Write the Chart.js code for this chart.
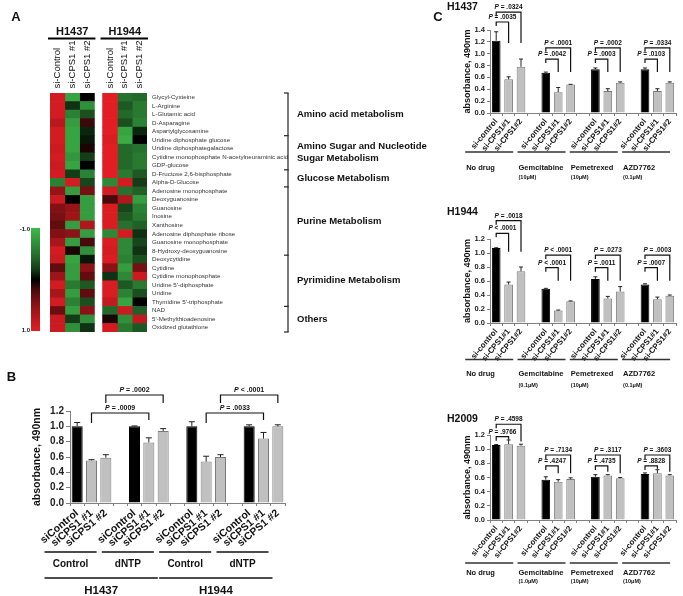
<!DOCTYPE html>
<html>
<head>
<meta charset="utf-8">
<title>CPS1 knockdown: metabolite heatmap and absorbance</title>
<script src="https://cdn.jsdelivr.net/npm/chart.js@4.4.1/dist/chart.umd.min.js"></script>
<style>
  html, body { margin: 0; padding: 0; background: #fff; }
  #page { position: relative; width: 683px; height: 596px; overflow: hidden; }
  canvas { position: absolute; left: 0; top: 0; }
</style>
</head>
<body>
<div id="page">
  <canvas id="heat" width="683" height="596"></canvas>
  <canvas id="panelB" width="683" height="596"></canvas>
  <canvas id="c1437" width="683" height="596"></canvas>
  <canvas id="c1944" width="683" height="596"></canvas>
  <canvas id="c2009" width="683" height="596"></canvas>
</div>
<script>
const FONT = "Arial, 'Liberation Sans', Helvetica, sans-serif";
Chart.defaults.font.family = FONT;
Chart.defaults.color = '#111';

// ---------- panel A data ----------
const metabolites = [
  'Glycyl-Cysteine', 'L-Arginine', 'L-Glutamic acid', 'D-Asparagine', 'Aspartylglycosamine',
  'Uridine diphosphate glucose', 'Uridine diphosphategalactose',
  'Cytidine monophosphate N-acetylneuraminic acid', 'GDP-glucose', 'D-Fructose 2,6-bisphosphate',
  'Alpha-D-Glucose', 'Adenosine monophosphate', 'Deoxyguanosine', 'Guanosine', 'Inosine', 'Xanthosine',
  'Adenosine diphosphate ribose', 'Guanosine monophosphate', '8-Hydroxy-deoxyguanosine',
  'Deoxycytidine', 'Cytidine', 'Cytidine monophosphate', "Uridine 5'-diphosphate", 'Uridine',
  "Thymidine 5'-triphosphate", 'NAD', "5'-Methylthioadenosine", 'Oxidized glutathione'
];
// relative level, -1 (green) .. 1 (red)
const h1437Control = [0.9, 0.9, 0.9, 0.75, 0.9, 0.9, 0.85, 0.9, 0.85, 0.9, -0.6, 0.55, 0.85, 0.45, 0.4, 0.3, 0.45, 0.65, 0.9, 0.85, 0.3, 0.6, 0.9, 0.65, 0.9, 0.35, 0.85, 0.85];
const h1437Cps1a   = [-0.85, -0.15, -0.6, -0.8, -0.85, -0.85, -0.85, -0.75, -0.85, -0.2, 0.9, -0.8, 0.0, 0.55, 0.6, -0.8, 0.5, -0.8, 0.05, -0.85, -0.8, -0.8, -0.55, -0.8, -0.6, -0.8, -0.2, -0.7];
const h1437Cps1b   = [0.0, -0.7, -0.3, 0.15, -0.1, -0.05, 0.05, -0.2, 0.0, -0.6, -0.25, 0.4, -0.8, -0.8, -0.8, 0.7, -0.8, 0.2, -0.7, -0.05, 0.5, 0.3, -0.35, 0.3, -0.3, 0.5, -0.7, -0.15];
const h1944Control = [1.0, 1.0, 1.0, 1.0, 1.0, 0.95, 1.0, 1.0, 1.0, 1.0, -0.65, 0.9, 0.2, 0.95, 0.95, 0.95, -0.65, 0.95, 0.9, 0.95, 0.5, -0.15, 0.95, 0.95, 0.8, -0.45, 0.05, 0.9];
const h1944Cps1a   = [-0.5, -0.35, -0.45, -0.3, -0.85, -0.9, -0.45, -0.45, -0.45, -0.55, 0.9, -0.5, 0.7, -0.25, -0.35, -0.5, 0.9, -0.65, -0.65, -0.6, -0.8, -0.65, -0.35, -0.6, -0.85, 0.85, -0.7, -0.55];
const h1944Cps1b   = [-0.45, -0.55, -0.55, -0.6, -0.1, 0.0, -0.5, -0.55, -0.55, -0.35, -0.2, -0.4, -0.8, -0.6, -0.55, -0.4, -0.15, -0.25, -0.15, -0.3, 0.4, 0.85, -0.55, -0.3, 0.0, -0.4, 0.8, -0.35];
const heatColumns = [h1437Control, h1437Cps1a, h1437Cps1b, h1944Control, h1944Cps1a, h1944Cps1b];
const columnLabels = ['si-Control', 'si-CPS1 #1', 'si-CPS1 #2', 'si-Control', 'si-CPS1 #1', 'si-CPS1 #2'];
const heatCellLines = ['H1437', 'H1944'];
const pathwayNames = [['Amino acid metabolism'], ['Amino Sugar and Nucleotide', 'Sugar Metabolism'],
  ['Glucose Metabolism'], ['Purine Metabolism'], ['Pyrimidine Metabolism'], ['Others']];
const pathwayFirstRow = [0, 5, 9, 11, 19, 25];

// ---------- panel B data ----------
const bLabels = ['siControl', 'siCPS1 #1', 'siCPS1 #2', '', 'siControl', 'siCPS1 #1', 'siCPS1 #2', '',
  'siControl', 'siCPS1 #1', 'siCPS1 #2', '', 'siControl', 'siCPS1 #1', 'siCPS1 #2'];
const bMeans = [1.00, 0.555, 0.59, null, 1.00, 0.79, 0.94, null, 1.00, 0.54, 0.60, null, 1.00, 0.84, 1.00];
const bErrors = [0.05, 0.01, 0.04, null, 0.005, 0.06, 0.03, null, 0.06, 0.07, 0.03, null, 0.02, 0.08, 0.02];
const bTreatments = ['Control', 'dNTP', 'Control', 'dNTP'];
const bCellLines = ['H1437', 'H1944'];
const bPFrom = [1, 2, 9, 10];
const bPTo = [5, 6, 13, 14];
const bPText = ['= .0009', '= .0002', '= .0033', '< .0001'];

// ---------- panel C data ----------
const cLabels = ['si-control', 'si-CPS1#1', 'si-CPS1#2', '', 'si-control', 'si-CPS1#1', 'si-CPS1#2', '',
  'si-control', 'si-CPS1#1', 'si-CPS1#2', '', 'si-control', 'si-CPS1#1', 'si-CPS1#2'];
const drugs = ['No drug', 'Gemcitabine', 'Pemetrexed', 'AZD7762'];
const h1437Means = [1.22, 0.57, 0.78, null, 0.68, 0.35, 0.48, null, 0.74, 0.37, 0.51, null, 0.74, 0.37, 0.51];
const h1437Errors = [0.15, 0.04, 0.13, null, 0.01, 0.08, 0.003, null, 0.02, 0.04, 0.015, null, 0.02, 0.04, 0.015];
const h1437Doses = ['', '(10\u03bcM)', '(10\u03bcM)', '(0.1\u03bcM)'];
const h1437PLow = ['= .0035', '= .0042', '= .0003', '= .0103'];
const h1437PHigh = ['= .0324', '< .0001', '= .0002', '= .0334'];
const h1944Means = [1.07, 0.55, 0.74, null, 0.49, 0.18, 0.31, null, 0.63, 0.35, 0.45, null, 0.55, 0.34, 0.39];
const h1944Errors = [0.005, 0.035, 0.06, null, 0.005, 0.005, 0.005, null, 0.03, 0.03, 0.07, null, 0.01, 0.03, 0.01];
const h1944Doses = ['', '(0.1\u03bcM)', '(10\u03bcM)', '(0.1\u03bcM)'];
const h1944PLow = ['< .0001', '< .0001', '= .0011', '= .0007'];
const h1944PHigh = ['= .0018', '< .0001', '= .0273', '= .0003'];
const h2009Means = [1.06, 1.07, 1.05, null, 0.57, 0.54, 0.58, null, 0.61, 0.63, 0.59, null, 0.65, 0.66, 0.63];
const h2009Errors = [0.005, 0.06, 0.02, null, 0.04, 0.03, 0.015, null, 0.03, 0.01, 0.01, null, 0.015, 0.05, 0.01];
const h2009Doses = ['', '(1.0\u03bcM)', '(10\u03bcM)', '(10\u03bcM)'];
const h2009PLow = ['= .9766', '= .4247', '= .4735', '= .8828'];
const h2009PHigh = ['= .4598', '= .7134', '= .3117', '= .3603'];

// ---------- helpers ----------
function txt(ctx, s, x, y, size, opt = {}) {
  ctx.save();
  ctx.font = (opt.italic ? 'italic ' : '') + (opt.weight || 'bold') + ' ' + size + 'px ' + FONT;
  ctx.fillStyle = opt.color || '#111';
  ctx.textAlign = opt.align || 'center';
  ctx.textBaseline = 'middle';
  ctx.fillText(s, x, y);
  ctx.restore();
}

function rule(ctx, x1, y1, x2, y2, w, c) {
  ctx.save();
  ctx.strokeStyle = c; ctx.lineWidth = w;
  ctx.beginPath(); ctx.moveTo(x1, y1); ctx.lineTo(x2, y2); ctx.stroke();
  ctx.restore();
}

// "P" in italics, the rest upright
function pLabel(ctx, rest, cx, y, size) {
  ctx.save();
  const fi = `italic bold ${size}px ${FONT}`, fb = `bold ${size}px ${FONT}`;
  ctx.font = fi; const wp = ctx.measureText('P').width;
  ctx.font = fb; const r = ' ' + rest; const wr = ctx.measureText(r).width;
  const x0 = cx - (wp + wr) / 2;
  ctx.fillStyle = '#111'; ctx.textAlign = 'left'; ctx.textBaseline = 'middle';
  ctx.font = fi; ctx.fillText('P', x0, y);
  ctx.font = fb; ctx.fillText(r, x0 + wp, y);
  ctx.restore();
}

function heatColor(v) {
  const t = Math.pow(Math.min(Math.abs(v), 1), 0.7);
  const end = v >= 0 ? [226, 30, 36] : [62, 184, 74];
  return `rgb(${Math.round(end[0] * t)},${Math.round(end[1] * t)},${Math.round(end[2] * t)})`;
}

// ---------- panel A ----------
const cellWidth = metabolites.map(() => 1);
const gapWidth = metabolites.map(() => 0.55);
const heatDatasets = [];
heatColumns.forEach((col, i) => {
  if (i === 3) heatDatasets.push({ data: gapWidth, backgroundColor: 'rgba(0,0,0,0)', inflateAmount: 0 });
  heatDatasets.push({ data: cellWidth, backgroundColor: col.map(heatColor) });
});

const heatDecor = {
  id: 'heatDecor',
  afterDraw(chart) {
    const { ctx, scales: { y } } = chart;
    txt(ctx, 'A', 16, 17, 13);
    const cols = [0, 1, 2, 4, 5, 6].map(di => chart.getDatasetMeta(di).data[0]);
    cols.forEach((bar, i) => {
      const cx = (bar.x + bar.base) / 2;
      ctx.save();
      ctx.translate(cx, 88.5); ctx.rotate(-Math.PI / 2);
      ctx.font = `9.5px ${FONT}`; ctx.fillStyle = '#111';
      ctx.textAlign = 'left'; ctx.textBaseline = 'middle';
      ctx.fillText(columnLabels[i], 0, 0);
      ctx.restore();
    });
    heatCellLines.forEach((name, k) => {
      const l = cols[3 * k].base, r = cols[3 * k + 2].x;
      txt(ctx, name, (l + r) / 2, 32, 11);
      rule(ctx, l - 2, 38.5, r + 1, 38.5, 2, '#000');
    });
    // pathway brackets
    const half = (y.getPixelForValue(1) - y.getPixelForValue(0)) / 2;
    const bottom = y.getPixelForValue(metabolites.length - 1) + half;
    const bounds = pathwayFirstRow.map(r => y.getPixelForValue(r) - half).concat([bottom]);
    rule(ctx, 288, bounds[0], 288, bottom, 1.2, '#222');
    bounds.forEach(b => rule(ctx, 284, b, 288.6, b, 1.2, '#222'));
    pathwayNames.forEach((lines, k) => {
      const mid = (bounds[k] + bounds[k + 1]) / 2;
      lines.forEach((s, j) => txt(ctx, s, 297, mid + (j - (lines.length - 1) / 2) * 12, 9.5, { align: 'left' }));
    });
    // colour key
    const g = ctx.createLinearGradient(0, 228, 0, 331);
    for (let s = 0; s <= 10; s++) g.addColorStop(s / 10, heatColor(-1 + s / 5));
    ctx.save(); ctx.fillStyle = g; ctx.fillRect(31, 228, 9, 103); ctx.restore();
    txt(ctx, '-1.0', 30, 229, 6, { align: 'right' });
    txt(ctx, '1.0', 30, 330, 6, { align: 'right' });
  }
};

new Chart(document.getElementById('heat'), {
  type: 'bar',
  data: { labels: metabolites, datasets: heatDatasets },
  options: {
    indexAxis: 'y',
    responsive: false,
    animation: false,
    layout: { padding: { left: 50, top: 93, right: 243, bottom: 264 } },
    plugins: { legend: { display: false }, tooltip: { enabled: false } },
    datasets: { bar: { barPercentage: 1, categoryPercentage: 1, borderWidth: 0 } },
    scales: {
      x: { stacked: true, display: false, min: 0, max: 6.55 },
      y: {
        stacked: true, position: 'right',
        grid: { display: false, drawTicks: false }, border: { display: false },
        ticks: { autoSkip: false, padding: 5, color: '#333', font: { size: 6.2 } },
        afterFit: s => { s.width = 293; }
      }
    }
  },
  plugins: [heatDecor]
});

// ---------- bar charts ----------
function decorate(chart, o) {
  const { ctx, scales: { y } } = chart;
  const bars = chart.getDatasetMeta(0).data;
  ctx.save();
  ctx.strokeStyle = '#222'; ctx.lineWidth = 1;
  o.means.forEach((m, i) => {
    const e = o.errs[i];
    if (m == null || !e) return;
    const bx = bars[i].x, y0 = y.getPixelForValue(m), y1 = y.getPixelForValue(m + e);
    ctx.beginPath();
    ctx.moveTo(bx, y0); ctx.lineTo(bx, y1);
    ctx.moveTo(bx - o.cap, y1); ctx.lineTo(bx + o.cap, y1);
    ctx.stroke();
  });
  ctx.strokeStyle = '#111'; ctx.lineWidth = 1.2;
  o.brackets.forEach(b => {
    const xa = bars[b.a].x, xb = bars[b.b].x;
    const yt = y.getPixelForValue(b.top);
    const yl = b.footL != null ? y.getPixelForValue(b.footL) : yt + o.drop;
    const yr = y.getPixelForValue(b.footR);
    ctx.beginPath();
    ctx.moveTo(xa, yl); ctx.lineTo(xa, yt); ctx.lineTo(xb, yt); ctx.lineTo(xb, yr);
    ctx.stroke();
    pLabel(ctx, b.p, (xa + xb) / 2, yt - o.pSize * 0.72, o.pSize);
  });
  ctx.restore();
  o.extra(ctx, chart);
}

function barChart(id, o) {
  const isCtrl = i => i % 4 === 0;
  return new Chart(document.getElementById(id), {
    type: 'bar',
    data: {
      labels: o.labels,
      datasets: [{
        data: o.means,
        backgroundColor: o.means.map((v, i) => isCtrl(i) ? '#000000' : '#c0c0c0'),
        borderColor: o.means.map((v, i) => isCtrl(i) ? '#000000' : '#7a7a7a'),
        borderWidth: 1,
        barPercentage: o.barPct,
        categoryPercentage: 1
      }]
    },
    options: {
      responsive: false,
      animation: false,
      layout: { padding: o.pad },
      plugins: { legend: { display: false }, tooltip: { enabled: false } },
      scales: {
        x: {
          offset: true,
          grid: { offset: true, drawOnChartArea: false, tickLength: 3, color: '#808080' },
          border: { color: '#808080' },
          ticks: { autoSkip: false, minRotation: o.rot, maxRotation: o.rot, padding: 1, color: '#111',
                   font: { size: o.xFont, weight: 'bold' } },
          afterFit: s => { s.height = o.xH; }
        },
        y: {
          min: 0, max: o.yMax,
          grid: { drawOnChartArea: false, tickLength: o.tick, color: '#808080' },
          border: { color: '#808080' },
          ticks: { stepSize: 0.2, autoSkip: false, padding: 2, color: '#222',
                   font: { size: o.yFont, weight: 'bold' }, callback: v => v.toFixed(1) },
          title: { display: true, text: 'absorbance, 490nm', color: '#111',
                   font: { size: o.titleFont, weight: 'bold' }, padding: { top: o.titlePad, bottom: 0 } },
          afterFit: s => { s.width = o.yW; }
        }
      }
    },
    plugins: [{ id: 'decor', afterDraw: chart => decorate(chart, o) }]
  });
}

// panel B
barChart('panelB', {
  labels: bLabels, means: bMeans, errs: bErrors,
  pad: { left: 0, top: 411, right: 398, bottom: 0 }, yW: 70, xH: 93, yMax: 1.2,
  barPct: 0.77, rot: 40, xFont: 10.5, yFont: 10, titleFont: 10.5, titlePad: 30.7, tick: 4, cap: 3,
  pSize: 7, drop: 9,
  brackets: bPFrom.map((a, k) => ({
    a, b: bPTo[k], p: bPText[k],
    top: [1.174, 1.409][k % 2], footL: [1.043, 1.304][k % 2], footR: [1.083, 1.304][k % 2]
  })),
  extra(ctx, chart) {
    const x = chart.scales.x;
    txt(ctx, 'B', 11.5, 377, 13);
    const spans = bTreatments.map((t, g) => {
      const c = x.getPixelForValue(4 * g + 1) - 21;
      rule(ctx, c - 26, 552, c + 26, 552, 1.6, '#111');
      txt(ctx, t, c, 564.5, 10);
      return [c - 26, c + 26];
    });
    bCellLines.forEach((name, k) => {
      const l = spans[2 * k][0], r = spans[2 * k + 1][1] + 4;
      rule(ctx, l, 578, r, 578, 1.6, '#111');
      txt(ctx, name, (l + r) / 2, 590.5, 11.5);
    });
  }
});

// panel C
function drugBrackets(pLow, pHigh, lowAt, highAt, footAt, means, errs) {
  const out = [];
  for (let g = 0; g < 4; g++) {
    const c = 4 * g;
    [[c + 1, pLow[g], lowAt[g]], [c + 2, pHigh[g], highAt[g]]].forEach(([b, p, top]) => {
      const clear = means[b] + errs[b] + 0.04;
      out.push({ a: c, b, p, top, footR: Math.min(Math.max(footAt[g], clear), top - 0.04) });
    });
  }
  return out;
}

function drugChart(id, cell, means, errs, doses, pLow, pHigh, geo) {
  barChart(id, {
    labels: cLabels, means, errs,
    pad: { left: 440, top: geo.top, right: 7, bottom: geo.bottom }, yW: 50, xH: geo.xH, yMax: geo.yMax,
    barPct: 0.7, rot: 50, xFont: 8, yFont: 7.5, titleFont: 9, titlePad: 22.6, tick: 3, cap: 2,
    pSize: 6.5, drop: 4,
    brackets: drugBrackets(pLow, pHigh, geo.lowAt, geo.highAt, geo.footAt, means, errs),
    extra(ctx, chart) {
      const x = chart.scales.x;
      if (geo.letter) txt(ctx, 'C', 438, 17, 13);
      txt(ctx, cell, 447, geo.cellY, 10.5, { align: 'left' });
      drugs.forEach((d, g) => {
        const left = x.getPixelForValue(4 * g) - 31 + 2.7 * g;
        rule(ctx, left, geo.lineY, left + 48, geo.lineY, 1.5, '#333');
        txt(ctx, d, left + 1, geo.drugY, 7.5, { align: 'left' });
        if (doses[g]) txt(ctx, doses[g], left + 1, geo.doseY, 5.5, { align: 'left' });
      });
    }
  });
}

drugChart('c1437', 'H1437', h1437Means, h1437Errors, h1437Doses, h1437PLow, h1437PHigh, {
  letter: true, top: 30, bottom: 411, xH: 72, yMax: 1.4,
  lowAt: [1.535, 0.91, 0.91, 0.91], highAt: [1.70, 1.10, 1.10, 1.10], footAt: [1.18, 0.69, 0.69, 0.69],
  cellY: 7.5, lineY: 152, drugY: 168, doseY: 177.5
});
drugChart('c1944', 'H1944', h1944Means, h1944Errors, h1944Doses, h1944PLow, h1944PHigh, {
  top: 239, bottom: 206, xH: 67, yMax: 1.2,
  lowAt: [1.281, 0.79, 0.79, 0.79], highAt: [1.462, 0.971, 0.971, 0.971], footAt: [1.019, 0.604, 0.604, 0.604],
  cellY: 212, lineY: 359.5, drugY: 373.5, doseY: 385
});
drugChart('c2009', 'H2009', h2009Means, h2009Errors, h2009Doses, h2009PLow, h2009PHigh, {
  top: 435, bottom: 0, xH: 76, yMax: 1.2,
  lowAt: [1.177, 0.763, 0.763, 0.763], highAt: [1.352, 0.918, 0.918, 0.918], footAt: [1.106, 0.66, 0.66, 0.66],
  cellY: 419, lineY: 563, drugY: 572.5, doseY: 581
});
</script>
</body>
</html>
